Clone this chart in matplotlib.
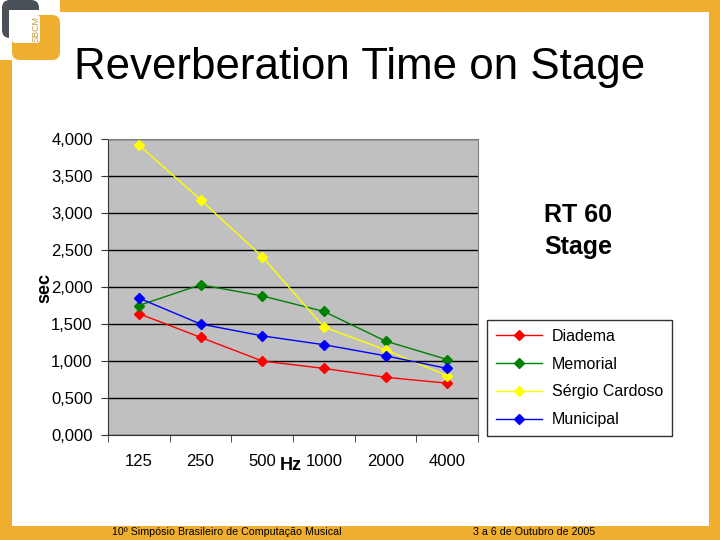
import matplotlib
matplotlib.use("Agg")
import matplotlib.pyplot as plt
from matplotlib.patches import Rectangle, FancyBboxPatch
from matplotlib.ticker import FixedLocator, FuncFormatter

plt.rcParams['font.family'] = ['Liberation Sans', 'DejaVu Sans']

freqs = ["125", "250", "500", "1000", "2000", "4000"]
diadema = [1.64, 1.32, 1.00, 0.90, 0.78, 0.70]
memorial = [1.75, 2.03, 1.88, 1.67, 1.27, 1.02]
sergio = [3.92, 3.18, 2.41, 1.46, 1.15, 0.80]
municipal = [1.85, 1.50, 1.34, 1.22, 1.07, 0.90]
series_names = ["Diadema", "Memorial", "Sérgio Cardoso", "Municipal"]
series_colors = ["#FF0000", "#008000", "#FFFF00", "#0000FF"]
yticks = [0.0, 0.5, 1.0, 1.5, 2.0, 2.5, 3.0, 3.5, 4.0]

W, H = 720, 540
fig = plt.figure(figsize=(7.2, 5.4), dpi=100)
fig.patch.set_facecolor("white")

orange = "#EFAE2F"
gray = "#4A5057"
# slide frame
bg = fig.add_axes([0, 0, 1, 1])
bg.set_xlim(0, W); bg.set_ylim(H, 0); bg.axis("off")
bg.add_patch(Rectangle((60, 0), W - 60, 12, color=orange, lw=0))
bg.add_patch(Rectangle((0, 60), 12, H - 60, color=orange, lw=0))
bg.add_patch(Rectangle((709, 0), 11, H, color=orange, lw=0))
bg.add_patch(Rectangle((0, 526), W, 14, color=orange, lw=0))
# logo
bg.add_patch(FancyBboxPatch((2, 0), 37, 38, boxstyle="round,pad=0,rounding_size=8",
                            color=gray, lw=0))
bg.add_patch(Rectangle((9, 10), 31, 29, color="white", lw=0))
bg.add_patch(FancyBboxPatch((12, 15), 48, 45, boxstyle="round,pad=0,rounding_size=8",
                            color=orange, lw=0))
bg.add_patch(FancyBboxPatch((12, 15), 28, 28, boxstyle="round,pad=0,rounding_size=3",
                            color="white", lw=0))
bg.text(36, 29, "SBCM", rotation=90, ha="center", va="center", fontsize=6.5,
        color="#C89A3A")

fig.text(360 / W, 1 - 67 / H, "Reverberation Time on Stage", ha="center", va="center",
         fontsize=31.6, color="black")

ax = fig.add_axes([108 / W, 1 - 435 / H, 370 / W, (435 - 139) / H])
ax.set_facecolor("#C0C0C0")
x = list(range(len(freqs)))
for vals, name, c in zip([diadema, memorial, sergio, municipal], series_names, series_colors):
    ax.plot(x, vals, color=c, lw=1, marker="D", markersize=5.5, label=name)
ax.set_xlim(-0.5, len(freqs) - 0.5)
ax.set_ylim(0, 4.0)
ax.yaxis.set_major_locator(FixedLocator(yticks))
ax.yaxis.set_major_formatter(FuncFormatter(lambda v, p: f"{v:.3f}".replace(".", ",")))
ax.grid(axis="y", color="black", lw=1)
ax.set_axisbelow(True)
ax.set_xticks(x)
ax.set_xticklabels(freqs)
ax.set_xticks([i - 0.5 for i in range(len(freqs) + 1)], minor=True)
ax.tick_params(axis="x", which="major", length=0, pad=14, labelsize=12)
ax.tick_params(axis="x", which="minor", length=5, direction="out", color="#333333")
ax.tick_params(axis="y", length=5, direction="out", labelsize=12, pad=6, color="#333333")
for s in ["top", "right"]:
    ax.spines[s].set_color("#808080")
    ax.spines[s].set_linewidth(0.8)
for s in ["left", "bottom"]:
    ax.spines[s].set_color("#333333")

fig.text(45 / W, 1 - 288 / H, "sec", rotation=90, ha="center", va="center",
         fontsize=13, fontweight="bold")
fig.text(291 / W, 1 - 465 / H, "Hz", ha="center", va="center", fontsize=13, fontweight="bold")
fig.text(578 / W, 1 - 231 / H, "RT 60\nStage", ha="center", va="center", fontsize=18,
         fontweight="bold", linespacing=1.4)

handles, labels = ax.get_legend_handles_labels()
leg = fig.legend(handles, labels, loc="upper left", bbox_to_anchor=(487 / W, 1 - 320 / H),
                 borderaxespad=0, frameon=True, fancybox=False, edgecolor="black",
                 fontsize=11.5, handlelength=2.9, labelspacing=0.8, borderpad=0.55,
                 handletextpad=0.6)
leg.get_frame().set_linewidth(1)

fig.text(112 / W, 1 - 532 / H, "10º Simpósio Brasileiro de Computação Musical",
         ha="left", va="center", fontsize=7.7, color="black")
fig.text(473 / W, 1 - 532 / H, "3 a 6 de Outubro de 2005",
         ha="left", va="center", fontsize=7.7, color="black")

fig.savefig("out.png", dpi=100)
